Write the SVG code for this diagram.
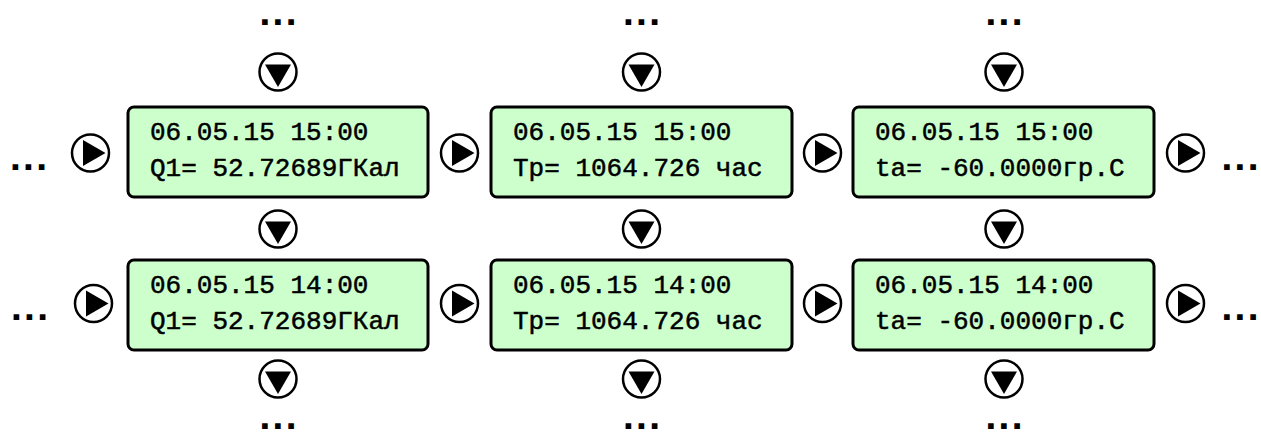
<svg xmlns="http://www.w3.org/2000/svg" xmlns:xlink="http://www.w3.org/1999/xlink" width="1261" height="434" viewBox="0 0 1261 434">
<style>
.box{fill:#ccffcc;stroke:#000;stroke-width:3}
.lcd{font-family:"Courier New","Liberation Mono",monospace;font-size:26px;fill:#000;stroke:#000;stroke-width:0.5}
.dots{font-family:"DejaVu Sans Mono",monospace;font-weight:bold;font-size:22px;fill:#000;stroke:#000;stroke-width:2;stroke-linejoin:miter;text-anchor:middle}
.ring{fill:#fff;stroke:#000;stroke-width:2.5}
</style>
<defs>
<g id="arR"><circle class="ring" r="18.5"/><path d="M15,0 L-7.5,-13 L-7.5,13 Z" fill="#000"/></g>
<g id="arD"><circle class="ring" r="18.5"/><path d="M0,15 L-13,-7.5 L13,-7.5 Z" fill="#000"/></g>
</defs>
<rect width="1261" height="434" fill="#fff"/>
<g id="node-r1c1"><rect class="box" x="128" y="107" width="300" height="90" rx="6"/><text class="lcd" x="150" y="140">06.05.15 15:00</text><text class="lcd" x="150" y="176">Q1= 52.72689ГКал</text></g>
<g id="node-r1c2"><rect class="box" x="491" y="107" width="301" height="90" rx="6"/><text class="lcd" x="513" y="140">06.05.15 15:00</text><text class="lcd" x="513" y="176">Tp= 1064.726 час</text></g>
<g id="node-r1c3"><rect class="box" x="853" y="107" width="301" height="90" rx="6"/><text class="lcd" x="875" y="140">06.05.15 15:00</text><text class="lcd" x="875" y="176">ta= -60.0000гр.C</text></g>
<g id="node-r2c1"><rect class="box" x="128" y="260" width="300" height="90" rx="6"/><text class="lcd" x="150" y="293">06.05.15 14:00</text><text class="lcd" x="150" y="329">Q1= 52.72689ГКал</text></g>
<g id="node-r2c2"><rect class="box" x="491" y="260" width="301" height="90" rx="6"/><text class="lcd" x="513" y="293">06.05.15 14:00</text><text class="lcd" x="513" y="329">Tp= 1064.726 час</text></g>
<g id="node-r2c3"><rect class="box" x="853" y="260" width="301" height="90" rx="6"/><text class="lcd" x="875" y="293">06.05.15 14:00</text><text class="lcd" x="875" y="329">ta= -60.0000гр.C</text></g>
<g id="connectors">
<use xlink:href="#arD" x="278" y="72"/><use xlink:href="#arD" x="641.5" y="72"/><use xlink:href="#arD" x="1004" y="72"/>
<use xlink:href="#arD" x="278" y="229"/><use xlink:href="#arD" x="641.5" y="229"/><use xlink:href="#arD" x="1004" y="229"/>
<use xlink:href="#arD" x="278" y="379"/><use xlink:href="#arD" x="641.5" y="379"/><use xlink:href="#arD" x="1004" y="379"/>
<use xlink:href="#arR" x="90.5" y="153"/><use xlink:href="#arR" x="459.5" y="153"/><use xlink:href="#arR" x="822.5" y="153"/><use xlink:href="#arR" x="1185.5" y="153"/>
<use xlink:href="#arR" x="93.5" y="303.5"/><use xlink:href="#arR" x="459.5" y="303.5"/><use xlink:href="#arR" x="822.5" y="303.5"/><use xlink:href="#arR" x="1185.5" y="303.5"/>
</g>
<g id="ellipses">
<text class="dots" x="278" y="24">...</text><text class="dots" x="641.5" y="24">...</text><text class="dots" x="1004" y="24">...</text>
<text class="dots" x="278" y="428">...</text><text class="dots" x="641.5" y="428">...</text><text class="dots" x="1004" y="428">...</text>
<text class="dots" x="28.5" y="169">...</text><text class="dots" x="29.5" y="319">...</text>
<text class="dots" x="1240" y="169">...</text><text class="dots" x="1240" y="319">...</text>
</g>
</svg>
